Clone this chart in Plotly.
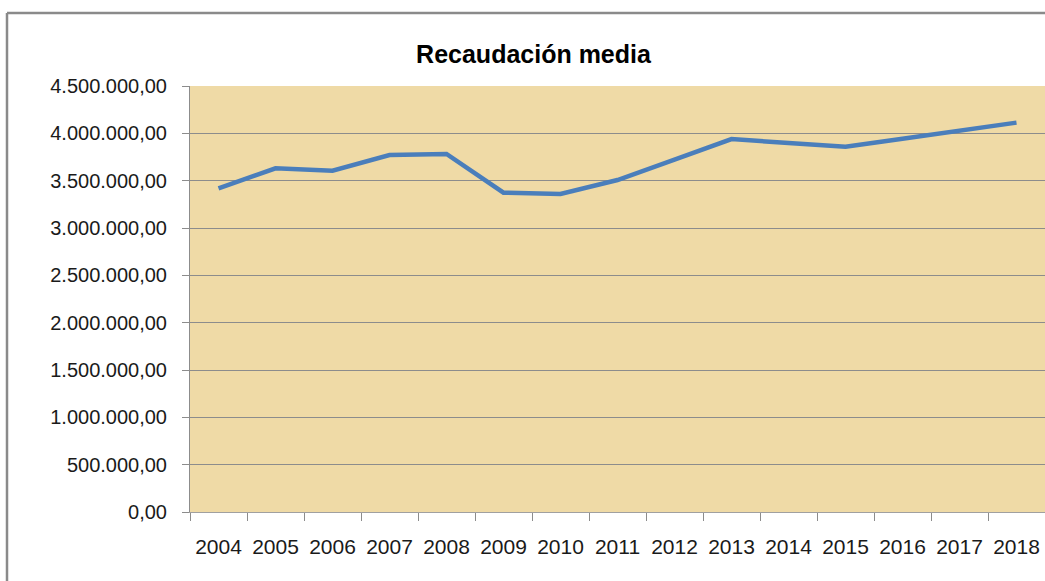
import plotly.graph_objects as go

years = ["2004", "2005", "2006", "2007", "2008", "2009", "2010", "2011",
         "2012", "2013", "2014", "2015", "2016", "2017", "2018"]
recaudacion = [3419000, 3631000, 3606000, 3771000, 3782000, 3373000, 3359000,
               3507000, 3722000, 3940000, 3898000, 3859000, 3943000, 4028000, 4113000]
y_ticks = [0, 500000, 1000000, 1500000, 2000000, 2500000, 3000000, 3500000, 4000000, 4500000]

W, H = 1045, 581
L, R, T, B = 190, 0, 86, 69

fig = go.Figure()
fig.add_trace(go.Scatter(
    x=years, y=recaudacion, mode="lines",
    line=dict(color="#4A7EBB", width=4.5),
    showlegend=False, hoverinfo="x+y",
))

font_family = "Liberation Sans, Arial, sans-serif"

fig.update_layout(
    width=W, height=H,
    margin=dict(l=L, r=R, t=T, b=B, pad=0),
    paper_bgcolor="white",
    plot_bgcolor="#EFDAA6",
    separators=",.",
    font=dict(family=font_family, size=20, color="#262626"),
    title=dict(
        text="<b>Recaudación media</b>",
        x=533.5 / W, xanchor="center",
        y=1 - 54 / H, yanchor="middle",
        font=dict(family=font_family, size=25, color="#000000"),
    ),
    xaxis=dict(
        type="category",
        range=[-0.5, 14.5],
        showgrid=False,
        showline=True, linecolor="#A0A0A0", linewidth=1,
        ticks="outside", tickson="boundaries", ticklen=8,
        tickcolor="#8C8C8C", tickwidth=1,
        ticklabelstandoff=16,
        tickfont=dict(size=21, color="#1A1A1A"),
    ),
    yaxis=dict(
        range=[0, 4500000],
        tickmode="array", tickvals=y_ticks,
        tickformat=",.2f",
        showgrid=True, gridcolor="#8C8C8C", gridwidth=1,
        showline=True, linecolor="#8C8C8C", linewidth=1,
        ticks="outside", ticklen=7, tickcolor="#8C8C8C", tickwidth=1,
        ticklabelstandoff=11,
        zeroline=False,
        tickfont=dict(size=20, color="#1A1A1A"),
    ),
)

# outer chart border (top and left edges visible in the crop)
pw, ph = W - L - R, H - T - B
def px_x(x):
    return (x - L) / pw
def px_y(y):
    return (H - B - y) / ph

fig.add_shape(type="line", xref="paper", yref="paper",
              x0=px_x(7), x1=px_x(W + 5), y0=px_y(13), y1=px_y(13),
              line=dict(color="#8A8A8A", width=2.5), layer="above")
fig.add_shape(type="line", xref="paper", yref="paper",
              x0=px_x(7), x1=px_x(7), y0=px_y(13), y1=px_y(H + 5),
              line=dict(color="#8A8A8A", width=2.5), layer="above")

fig.write_html(
    "out.html",
    config={"displayModeBar": False},
    post_script="document.body.style.margin='0';document.body.style.overflow='hidden';",
)
